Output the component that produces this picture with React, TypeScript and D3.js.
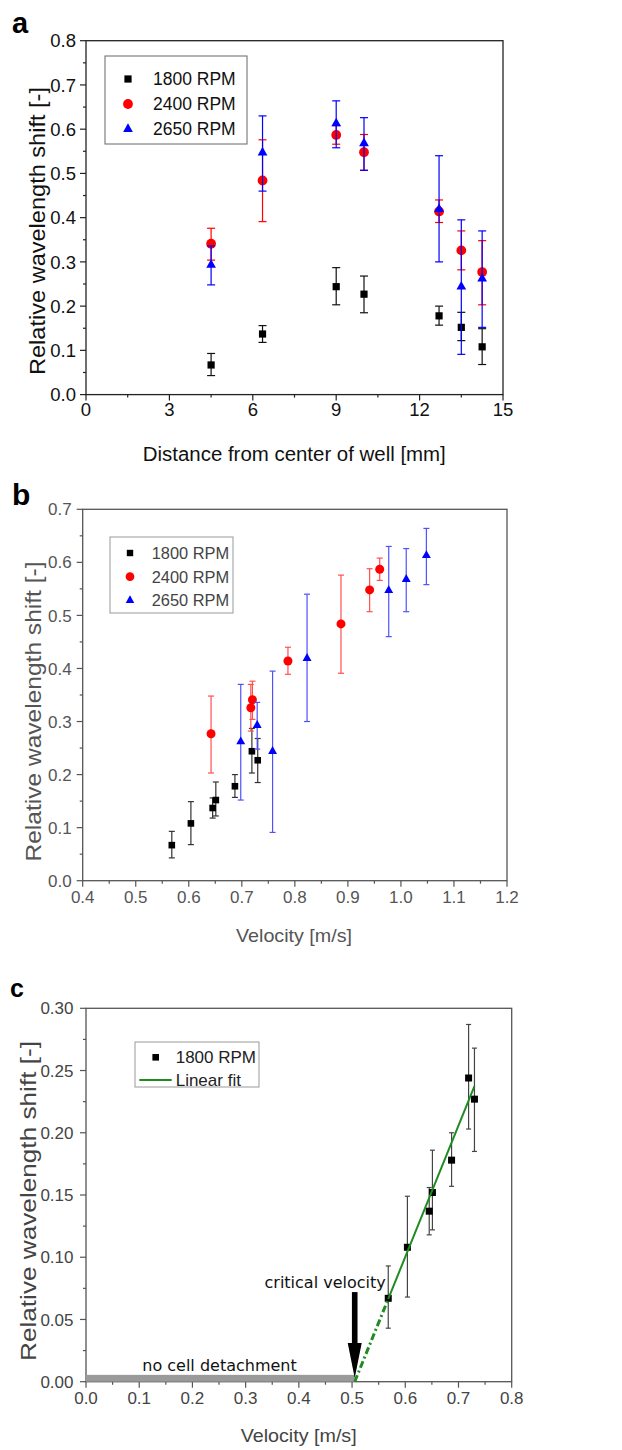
import React from "react";
import * as d3 from "d3";

const FONT = "Arial, 'Liberation Sans', Helvetica, sans-serif";
const SANS2 = "'DejaVu Sans', Verdana, sans-serif";

// ---- shared measurements (7 positions in the well) ----
const distance = [4.5, 6.35, 9, 10, 12.7, 13.5, 14.25];

const shift1800 = [0.067, 0.137, 0.244, 0.227, 0.178, 0.152, 0.108];
const lo1800 = [0.043, 0.118, 0.203, 0.185, 0.157, 0.122, 0.068];
const hi1800 = [0.093, 0.156, 0.287, 0.268, 0.2, 0.186, 0.149];
const vel1800 = [0.568, 0.645, 0.719, 0.73, 0.687, 0.651, 0.604];

const shift2400 = [0.341, 0.484, 0.587, 0.548, 0.414, 0.326, 0.277];
const lo2400 = [0.304, 0.391, 0.566, 0.507, 0.389, 0.282, 0.203];
const hi2400 = [0.376, 0.576, 0.608, 0.588, 0.44, 0.37, 0.348];
const vel2400 = [0.72, 0.887, 0.96, 0.941, 0.787, 0.717, 0.642];

const shift2650 = [0.293, 0.547, 0.613, 0.568, 0.419, 0.244, 0.262];
const lo2650 = [0.248, 0.46, 0.558, 0.507, 0.3, 0.091, 0.152];
const hi2650 = [0.336, 0.63, 0.664, 0.626, 0.54, 0.395, 0.37];
const vel2650 = [0.729, 0.977, 1.048, 1.01, 0.823, 0.758, 0.698];

// linear fit (panel c)
const fitX = [0.568, 0.73];
const fitY = [0.0665, 0.2375];
const fitExtX = [0.505, 0.568];
const fitExtY = [0, 0.0665];
const noDetach = [0, 0.505];
const arrowV = 0.505;

// ticks
const aXTicks = [0, 3, 6, 9, 12, 15];
const aYTicks = [0, 0.1, 0.2, 0.3, 0.4, 0.5, 0.6, 0.7, 0.8];
const bXTicks = [0.4, 0.5, 0.6, 0.7, 0.8, 0.9, 1.0, 1.1, 1.2];
const bYTicks = [0, 0.1, 0.2, 0.3, 0.4, 0.5, 0.6, 0.7];
const cXTicks = [0, 0.1, 0.2, 0.3, 0.4, 0.5, 0.6, 0.7, 0.8];
const cYTicks = [0, 0.05, 0.1, 0.15, 0.2, 0.25, 0.3];

const seriesNames = ["1800 RPM", "2400 RPM", "2650 RPM"];
const seriesColors = ["#000000", "#ff0000", "#0000ff"];
const seriesShapes = ["square", "circle", "triangle"];

type Scale = d3.ScaleLinear<number, number>;

function Marker({ shape, x, y, s, color }: any) {
  if (shape === "square")
    return <rect x={x - s / 2} y={y - s / 2} width={s} height={s} fill={color} />;
  if (shape === "circle") return <circle cx={x} cy={y} r={s * 0.68} fill={color} />;
  const w = s * 1.35;
  const h = s * 1.2;
  return (
    <polygon
      points={`${x},${y - (h * 2) / 3} ${x - w / 2},${y + h / 3} ${x + w / 2},${y + h / 3}`}
      fill={color}
    />
  );
}

function Frame(props: any) {
  const { xs, ys, xTicks, yTicks, xFmt, yFmt, color, textColor, fs, xGap, yGap } = props;
  const [x0, x1] = xs.range();
  const [y0, y1] = ys.range();
  const xMinor = d3.pairs(xTicks).map(([a, b]: any) => (a + b) / 2);
  const yMinor = d3.pairs(yTicks).map(([a, b]: any) => (a + b) / 2);
  return (
    <g>
      <rect x={x0} y={y1} width={x1 - x0} height={y0 - y1} fill="none" stroke={color} strokeWidth={1.3} />
      {xTicks.map((t: number) => (
        <g key={"xt" + t}>
          <line x1={xs(t)} x2={xs(t)} y1={y0} y2={y0 + 6} stroke={color} strokeWidth={1.2} />
          <text x={xs(t)} y={y0 + xGap + fs * 0.716} textAnchor="middle" fontSize={fs} fill={textColor} fontFamily={FONT}>
            {xFmt(t)}
          </text>
        </g>
      ))}
      {xMinor.map((t: number) => (
        <line key={"xm" + t} x1={xs(t)} x2={xs(t)} y1={y0} y2={y0 + 3} stroke={color} strokeWidth={1.2} />
      ))}
      {yTicks.map((t: number) => (
        <g key={"yt" + t}>
          <line x1={x0 - 6} x2={x0} y1={ys(t)} y2={ys(t)} stroke={color} strokeWidth={1.2} />
          <text x={x0 - yGap} y={ys(t)} dy="0.36em" textAnchor="end" fontSize={fs} fill={textColor} fontFamily={FONT}>
            {yFmt(t)}
          </text>
        </g>
      ))}
      {yMinor.map((t: number) => (
        <line key={"ym" + t} x1={x0 - 3} x2={x0} y1={ys(t)} y2={ys(t)} stroke={color} strokeWidth={1.2} />
      ))}
    </g>
  );
}

function Points({ xs, ys, x, y, lo, hi, shape, color, s, cap, barColor }: any) {
  return (
    <g>
      {x.map((v: number, i: number) => (
        <g key={i} stroke={barColor} strokeWidth={1.2}>
          <line x1={xs(v)} x2={xs(v)} y1={ys(lo[i])} y2={ys(hi[i])} />
          <line x1={xs(v) - cap / 2} x2={xs(v) + cap / 2} y1={ys(lo[i])} y2={ys(lo[i])} />
          <line x1={xs(v) - cap / 2} x2={xs(v) + cap / 2} y1={ys(hi[i])} y2={ys(hi[i])} />
        </g>
      ))}
      {x.map((v: number, i: number) => (
        <Marker key={"m" + i} shape={shape} x={xs(v)} y={ys(y[i])} s={s} color={color} />
      ))}
    </g>
  );
}

function YTitle({ x, y, len, fs, color }: any) {
  return (
    <text
      transform={`translate(${x},${y}) rotate(-90)`}
      textAnchor="middle"
      fontSize={fs}
      fill={color}
      fontFamily={FONT}
      textLength={len}
      lengthAdjust="spacingAndGlyphs"
    >
      Relative wavelength shift [-]
    </text>
  );
}

export default function App() {
  const f1 = d3.format(".1f");
  const f2 = d3.format(".2f");
  const fd = d3.format("d");

  // panel a
  const xa: Scale = d3.scaleLinear().domain([0, 15]).range([86, 503]);
  const ya: Scale = d3.scaleLinear().domain([0, 0.8]).range([394.6, 40.7]);
  const aY = [shift1800, shift2400, shift2650];
  const aLo = [lo1800, lo2400, lo2650];
  const aHi = [hi1800, hi2400, hi2650];

  // panel b
  const xb: Scale = d3.scaleLinear().domain([0.4, 1.2]).range([82.7, 507]);
  const yb: Scale = d3.scaleLinear().domain([0, 0.7]).range([880.7, 509.3]);
  const bX = [vel1800, vel2400, vel2650];
  const barColorsB = ["#333", "#ff5050", "#5050ff"];

  // panel c
  const xc: Scale = d3.scaleLinear().domain([0, 0.8]).range([86, 511.7]);
  const yc: Scale = d3.scaleLinear().domain([0, 0.3]).range([1381.7, 1008.3]);
  const line = d3
    .line<number>()
    .x((d) => d);
  const fitPath = line.y((_, i) => yc(fitY[i]))(fitX.map((v) => xc(v)));
  const extPath = line.y((_, i) => yc(fitExtY[i]))(fitExtX.map((v) => xc(v)));
  const ax = xc(arrowV);
  const green = "#1f8c1f";

  return (
    <svg
      width={622}
      height={1450}
      style={{ position: "absolute", left: 0, top: 0, background: "#fff" }}
    >
      {/* ---------- a ---------- */}
      <text x={12} y={33} fontSize={29} fontWeight="bold" fontFamily={FONT}>a</text>
      <Frame xs={xa} ys={ya} xTicks={aXTicks} yTicks={aYTicks} xFmt={fd} yFmt={f1}
        color="#222" textColor="#111" fs={18.5} xGap={8.5} yGap={10} />
      {seriesNames.map((n, k) => (
        <Points key={n} xs={xa} ys={ya} x={distance} y={aY[k]} lo={aLo[k]} hi={aHi[k]}
          shape={seriesShapes[k]} color={seriesColors[k]} s={7.2} cap={8}
          barColor={k === 0 ? "#111" : seriesColors[k]} />
      ))}
      <rect x={105} y={56} width={142} height={88} fill="#fff" stroke="#666" strokeWidth={1} />
      {seriesNames.map((n, k) => (
        <g key={"la" + n}>
          <Marker shape={seriesShapes[k]} x={128} y={79 + k * 25} s={7.2} color={seriesColors[k]} />
          <text x={153} y={79 + k * 25} dy="0.36em" fontSize={17.5} fontFamily={FONT} fill="#111">{n}</text>
        </g>
      ))}
      <text x={294.3} y={461} textAnchor="middle" fontSize={20} fontFamily={FONT} fill="#111"
        textLength={303} lengthAdjust="spacingAndGlyphs">Distance from center of well [mm]</text>
      <YTitle x={45} y={231} len={288} fs={22} color="#111" />

      {/* ---------- b ---------- */}
      <text x={12} y={505} fontSize={30} fontWeight="bold" fontFamily={FONT}>b</text>
      <Frame xs={xb} ys={yb} xTicks={bXTicks} yTicks={bYTicks} xFmt={f1} yFmt={f1}
        color="#555" textColor="#555" fs={17} xGap={10.5} yGap={11} />
      {seriesNames.map((n, k) => (
        <Points key={"b" + n} xs={xb} ys={yb} x={bX[k]} y={aY[k]} lo={aLo[k]} hi={aHi[k]}
          shape={seriesShapes[k]} color={seriesColors[k]} s={6.6} cap={6}
          barColor={barColorsB[k]} />
      ))}
      <rect x={110} y={537} width={123} height={76} fill="#fff" stroke="#999" strokeWidth={1} />
      {seriesNames.map((n, k) => (
        <g key={"lb" + n}>
          <Marker shape={seriesShapes[k]} x={130} y={553 + k * 23.7} s={6.4} color={seriesColors[k]} />
          <text x={151.7} y={553 + k * 23.7} dy="0.36em" fontSize={16.4} fontFamily={FONT} fill="#444">{n}</text>
        </g>
      ))}
      <text x={294} y={942} textAnchor="middle" fontSize={19} fontFamily={FONT} fill="#555"
        textLength={116} lengthAdjust="spacingAndGlyphs">Velocity [m/s]</text>
      <YTitle x={41} y={711.5} len={300} fs={22} color="#555" />

      {/* ---------- c ---------- */}
      <text x={10} y={997} fontSize={25} fontWeight="bold" fontFamily={FONT}>c</text>
      <Frame xs={xc} ys={yc} xTicks={cXTicks} yTicks={cYTicks} xFmt={f1} yFmt={f2}
        color="#555" textColor="#444" fs={17} xGap={10} yGap={12.5} />
      <rect x={xc(noDetach[0])} y={yc(0.0055)} width={xc(noDetach[1]) - xc(noDetach[0])}
        height={yc(0) - yc(0.0055)} fill="#9a9a9a" />
      <Points xs={xc} ys={yc} x={vel1800} y={shift1800} lo={lo1800} hi={hi1800}
        shape="square" color="#000" s={7} cap={5} barColor="#444" />
      <path d={fitPath || ""} fill="none" stroke={green} strokeWidth={2} />
      <path d={extPath || ""} fill="none" stroke={green} strokeWidth={3} strokeDasharray="7,3,2,3" />
      <rect x={ax - 2.8} y={yc(0.072)} width={5.6} height={yc(0.03) - yc(0.072)} fill="#000" />
      <polygon points={`${ax - 7},${yc(0.031)} ${ax + 7},${yc(0.031)} ${ax},${yc(0.003)}`} fill="#000" />
      <text x={ax + 31} y={1288} textAnchor="end" fontSize={16} fontFamily={SANS2} fill="#111">critical velocity</text>
      <text x={219.5} y={1371} textAnchor="middle" fontSize={16} fontFamily={SANS2} fill="#111">no cell detachment</text>
      <rect x={135} y={1042} width={124} height={45} fill="#fff" stroke="#999" strokeWidth={1} />
      <Marker shape="square" x={155.7} y={1057.3} s={6.6} color="#000" />
      <text x={175.7} y={1057.3} dy="0.36em" fontSize={17} fontFamily={FONT} fill="#222">1800 RPM</text>
      <line x1={139.3} x2={171.7} y1={1080} y2={1080} stroke={green} strokeWidth={2} />
      <text x={175.7} y={1080} dy="0.36em" fontSize={17} fontFamily={FONT} fill="#222">Linear fit</text>
      <text x={298.7} y={1442} textAnchor="middle" fontSize={19} fontFamily={FONT} fill="#444"
        textLength={116} lengthAdjust="spacingAndGlyphs">Velocity [m/s]</text>
      <YTitle x={36} y={1201} len={320} fs={22} color="#444" />
    </svg>
  );
}
